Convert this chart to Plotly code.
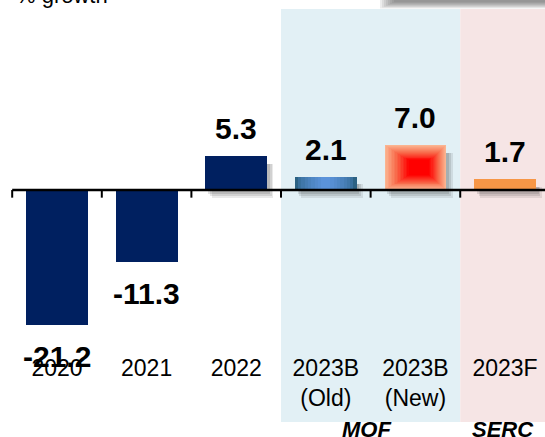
import plotly.graph_objects as go

# --- data -------------------------------------------------------------
categories = ["2020", "2021", "2022", "2023B<br>(Old)", "2023B<br>(New)", "2023F"]
growth = [-21.2, -11.3, 5.3, 2.1, 7.0, 1.7]
group_labels = ["MOF", "SERC"]
y_title = "% growth"

NAVY = "#002060"
OLD_EDGE = "#2c6283"
OLD_MID = "#5b93da"
NEW_OUT = "#fbb490"
NEW_MIDC = "#f86a4a"
NEW_HOT = "#ff0000"
FCST = "#f79646"

W, H = 545, 437
MB = 85                      # bottom margin (room for category labels)
PH = H - MB                  # plot-area height in px
BAR_W = 0.69
x_idx = list(range(len(categories)))
FONT = "Arial, Liberation Sans"

def py(pix):
    """pixel row -> paper y"""
    return (PH - pix) / PH

def px(pix):
    """pixel column -> paper x"""
    return pix / W

def lerp(c1, c2, t):
    a = [int(c1[i:i + 2], 16) for i in (1, 3, 5)]
    b = [int(c2[i:i + 2], 16) for i in (1, 3, 5)]
    return "rgb({},{},{})".format(*[round(a[k] + (b[k] - a[k]) * t) for k in range(3)])

def lerp_hex(c1, c2, t):
    a = [int(c1[i:i + 2], 16) for i in (1, 3, 5)]
    b = [int(c2[i:i + 2], 16) for i in (1, 3, 5)]
    return "#" + "".join(f"{round(a[k] + (b[k] - a[k]) * t):02x}" for k in range(3))

fig = go.Figure()

# soft drop shadows behind the positive bars
for dx, dy, a in [(0.07, 1.3, 0.10), (0.05, 1.0, 0.12), (0.03, 0.7, 0.14)]:
    xs = [i for i, v in zip(x_idx, growth) if v > 0]
    vs = [v for v in growth if v > 0]
    fig.add_trace(go.Bar(
        x=xs, y=[v + dy - 1.2 for v in vs], base=[-dy] * len(vs),
        width=BAR_W, offset=-BAR_W / 2 + dx,
        marker=dict(color=f"rgba(40,40,40,{a})", line_width=0),
        hoverinfo="skip", showlegend=False))

# main bars
bar_colors = [NAVY, NAVY, NAVY, OLD_EDGE, NEW_OUT, FCST]
fig.add_trace(go.Bar(
    x=x_idx, y=growth, width=BAR_W,
    marker=dict(color=bar_colors, line_width=0),
    showlegend=False, hoverinfo="x+y"))

# horizontal gradient on the "Old" bar
i_old = 3
n = 8
for k in range(1, n + 1):
    t = k / n
    w = BAR_W * (1 - 0.85 * t)
    fig.add_trace(go.Bar(
        x=[i_old], y=[growth[i_old]], width=w,
        marker=dict(color=lerp(OLD_EDGE, OLD_MID, t ** 0.6), line_width=0),
        hoverinfo="skip", showlegend=False))

# radial-ish gradient on the "New" bar (hot spot right of centre)
i_new = 4
v = growth[i_new]
x0, x1 = -BAR_W / 2, BAR_W / 2
hx, hy = 0.06, v * 0.5
n = 24
for k in range(1, n + 1):
    t = k / n
    s = 1 - t
    lx = hx - (hx - x0) * s
    rx = hx + (x1 - hx) * s
    by = hy - (hy - 0) * s
    ty = hy + (v - hy) * s
    if rx - lx <= 0 or ty - by <= 0:
        continue
    if t < 0.3:
        col = lerp(NEW_OUT, NEW_MIDC, t / 0.3)
    else:
        col = lerp(NEW_MIDC, NEW_HOT, min(1.0, (t - 0.3) / 0.35))
    fig.add_trace(go.Bar(
        x=[i_new], y=[ty - by], base=[by], width=rx - lx, offset=lx,
        marker=dict(color=col, line_width=0),
        hoverinfo="skip", showlegend=False))

# value labels
for i, val in zip(x_idx, growth):
    fig.add_annotation(
        x=i, y=val, text=f"{val:.1f}", showarrow=False,
        yanchor="bottom" if val >= 0 else "top",
        yshift=9 if val >= 0 else -13,
        font=dict(family=FONT, size=30, color="black", weight="bold"))

# group captions
fig.add_annotation(x=3.45, xref="x", y=py(429), yref="paper", yanchor="middle",
                   text=f"<b><i>{group_labels[0]}</i></b>",
                   showarrow=False, font=dict(family=FONT, size=22, color="black"))
fig.add_annotation(x=4.98, xref="x", y=py(429), yref="paper", yanchor="middle",
                   text=f"<b><i>{group_labels[1]}</i></b>",
                   showarrow=False, font=dict(family=FONT, size=22, color="black"))

# axis title (top-left)
fig.add_annotation(x=px(14), xref="paper", xanchor="left", y=py(10), yref="paper", yanchor="bottom",
                   text=y_title, showarrow=False,
                   font=dict(family=FONT, size=22, color="black"))

shapes = []
# shaded groups
shapes.append(dict(type="rect", xref="x", yref="paper", x0=2.5, x1=4.5, y0=py(422), y1=py(9),
                   fillcolor="#e2f0f5", line_width=0, layer="below"))
shapes.append(dict(type="rect", xref="x", yref="paper", x0=4.5, x1=6.0, y0=py(422), y1=py(9),
                   fillcolor="#f6e5e5", line_width=0, layer="below"))
# blurred shadow strip at the top right
for k in range(8):
    shapes.append(dict(type="rect", xref="paper", yref="paper",
                       x0=px(380 + 2 * k), x1=1.02, y0=py(8.5 - 0.9 * k), y1=py(-5),
                       fillcolor="rgba(80,80,80,0.10)", line_width=0, layer="above"))
# zero axis line and tick marks
shapes.append(dict(type="line", xref="x", yref="y", x0=-0.5, x1=6, y0=0, y1=0,
                   line=dict(color="black", width=2.5), layer="above"))
for b in [i - 0.5 for i in x_idx]:
    shapes.append(dict(type="line", xref="x", yref="y", x0=b, x1=b, y0=0, y1=-1.2,
                       line=dict(color="black", width=2), layer="above"))

x_range = [-0.636, 5.446]
y_range = [-25.43, 29.83]

fig.update_layout(
    template="none",
    width=W, height=H,
    margin=dict(l=0, r=0, t=0, b=MB, pad=0),
    paper_bgcolor="white", plot_bgcolor="rgba(0,0,0,0)",
    barmode="overlay", bargap=0,
    shapes=shapes,
    xaxis=dict(range=x_range, tickvals=x_idx, ticktext=categories, showgrid=False,
               zeroline=False, showline=False, ticks="", fixedrange=True, automargin=False,
               tickfont=dict(family=FONT, size=23, color="black")),
    yaxis=dict(range=y_range, visible=False, fixedrange=True, automargin=False),
    font=dict(family=FONT),
)

fig.write_html("out.html")
